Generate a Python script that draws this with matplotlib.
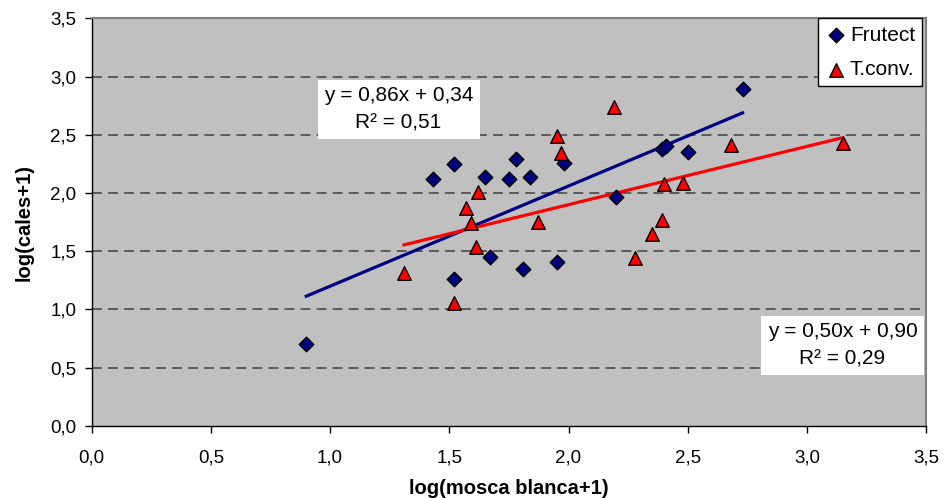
import matplotlib
matplotlib.use("Agg")
import matplotlib.pyplot as plt
import numpy as np
from matplotlib.ticker import MultipleLocator, FuncFormatter

plt.rcParams['font.family'] = ['Liberation Sans', 'DejaVu Sans']

# Frutect data
frutect_x = [0.90, 1.43, 1.52, 1.52, 1.65, 1.67, 1.75, 1.78, 1.84, 1.81, 1.95, 1.98, 2.20, 2.39, 2.41, 2.50, 2.73]
frutect_y = [0.70, 2.12, 2.25, 1.26, 2.14, 1.45, 2.12, 2.29, 2.14, 1.35, 1.41, 2.26, 1.97, 2.38, 2.40, 2.35, 2.89]
# T.conv. data
tconv_x = [1.31, 1.52, 1.57, 1.59, 1.61, 1.62, 1.87, 1.95, 1.97, 2.19, 2.28, 2.35, 2.39, 2.40, 2.48, 2.68, 3.15]
tconv_y = [1.31, 1.06, 1.87, 1.74, 1.54, 2.01, 1.75, 2.49, 2.34, 2.74, 1.44, 1.65, 1.77, 2.08, 2.09, 2.41, 2.43]

# trendline coefficients (slope, intercept, R2)
frutect_fit = (0.86, 0.34, 0.51)
tconv_fit = (0.50, 0.90, 0.29)

series_names = ["Frutect", "T.conv."]

fig = plt.figure(figsize=(9.47, 4.98), dpi=100)
ax = fig.add_axes([0.0968, 0.1446, 0.978 - 0.0968, 0.9633 - 0.1446])
ax.set_facecolor('#C0C0C0')

ax.set_xlim(0, 3.5)
ax.set_ylim(0, 3.5)
ax.xaxis.set_major_locator(MultipleLocator(0.5))
ax.yaxis.set_major_locator(MultipleLocator(0.5))
fmt = FuncFormatter(lambda v, p: f"{v:.1f}".replace('.', ','))
ax.xaxis.set_major_formatter(fmt)
ax.yaxis.set_major_formatter(fmt)

for yv in np.arange(0.5, 3.5, 0.5):
    ax.axhline(yv, color='#404040', lw=1.1, dashes=(6.5, 4), zorder=1)

# trendlines
fx = np.array([min(frutect_x), max(frutect_x)])
ax.plot(fx, frutect_fit[0] * fx + frutect_fit[1], color='#000080', lw=2.3, zorder=2)
tx = np.array([min(tconv_x), max(tconv_x)])
ax.plot(tx, tconv_fit[0] * tx + tconv_fit[1], color='#FF0000', lw=2.3, zorder=2)

ax.scatter(frutect_x, frutect_y, marker='D', s=55, color='#000080', edgecolor='black',
           linewidths=1.0, zorder=3, label=series_names[0])
ax.scatter(tconv_x, tconv_y, marker='^', s=95, color='#FF0000', edgecolor='black',
           linewidths=1.0, zorder=3, label=series_names[1])

for s in ['left', 'bottom']:
    ax.spines[s].set_color('black')
    ax.spines[s].set_linewidth(1.0)
for s in ['top', 'right']:
    ax.spines[s].set_color('#808080')
    ax.spines[s].set_linewidth(1.5)

ax.tick_params(axis='both', direction='out', length=5, width=1, color='black',
               labelsize=13.5, labelcolor='black')
ax.tick_params(axis='x', pad=12)
ax.tick_params(axis='y', pad=6)

ax.set_xlabel('log(mosca blanca+1)', fontsize=14.5, fontweight='bold', labelpad=9)
ax.set_ylabel('log(cales+1)', fontsize=14.5, fontweight='bold', labelpad=12)

def eq_text(fit):
    return (f"y = {fit[0]:.2f}x + {fit[1]:.2f}".replace('.', ',') + "\n" +
            f"R\u00b2 = {fit[2]:.2f}".replace('.', ','))

ax.text(1.287, 2.717, eq_text(frutect_fit), ha='center', va='center', fontsize=15,
        linespacing=1.6, zorder=4,
        bbox=dict(boxstyle='square,pad=0.3', facecolor='white', edgecolor='none'))
ax.text(3.149, 0.691, eq_text(tconv_fit), ha='center', va='center', fontsize=15,
        linespacing=1.6, zorder=4,
        bbox=dict(boxstyle='square,pad=0.3', facecolor='white', edgecolor='none'))

leg = ax.legend(loc='upper right', bbox_to_anchor=(0.9955, 1.0), fontsize=15,
                frameon=True, fancybox=False, edgecolor='black', framealpha=1,
                borderpad=0.35, handletextpad=0.1, handlelength=1.1,
                labelspacing=0.75, borderaxespad=0.0)
leg.get_frame().set_linewidth(1.0)
leg.set_zorder(5)

fig.savefig('out.png', dpi=100)
